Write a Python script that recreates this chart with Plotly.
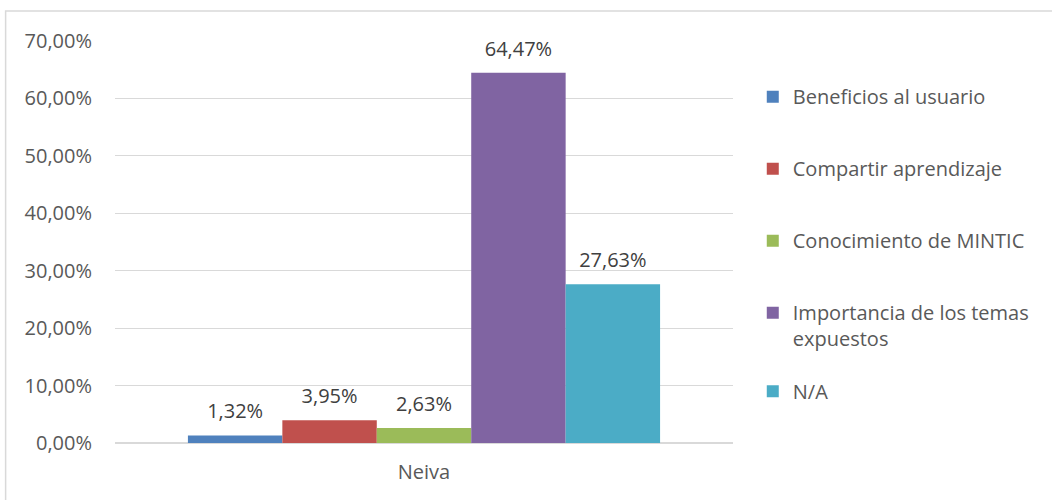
import plotly.graph_objects as go

categories = ["Neiva"]
series_names = ["Beneficios al usuario", "Compartir aprendizaje", "Conocimiento de MINTIC",
                "Importancia de los temas<br>expuestos", "N/A"]
series_values = [[0.0132], [0.0395], [0.0263], [0.6447], [0.2763]]
series_colors = ["#4F81BD", "#C0504D", "#9BBB59", "#8064A2", "#4BACC6"]
y_ticks = [0, 0.1, 0.2, 0.3, 0.4, 0.5, 0.6, 0.7]

FONT = "Open Sans"
FS = 20
fig = go.Figure()
for i, (name, vals, col) in enumerate(zip(series_names, series_values, series_colors)):
    grp = "g%d" % i
    fig.add_trace(go.Bar(
        x=categories, y=vals, name=name, legendgroup=grp, offsetgroup=grp,
        legend="legend2" if i == len(series_names) - 1 else "legend",
        marker=dict(color=col, line=dict(width=0)),
        hoverinfo="skip",
    ))
    # data labels, placed over each bar through the same offset group
    fig.add_trace(go.Scatter(
        x=categories, y=vals, mode="markers+text", offsetgroup=grp,
        text=["{:.2f}%".format(v * 100).replace(".", ",") for v in vals],
        textposition="top center",
        textfont=dict(family=FONT, size=FS, color="#404040"),
        marker=dict(size=18, opacity=0), showlegend=False, cliponaxis=False,
        hoverinfo="skip",
    ))

legend_common = dict(xanchor="left", yanchor="top", valign="top",
                     font=dict(family=FONT, size=FS, color="#595959"),
                     itemwidth=30, bgcolor="rgba(0,0,0,0)", borderwidth=0)
fig.update_layout(
    width=1052, height=500,
    margin=dict(l=115, r=319, t=41, b=57),
    paper_bgcolor="white", plot_bgcolor="white",
    separators=",.",
    barmode="group", bargap=0.236, bargroupgap=0,
    scattermode="group", scattergap=0.236,
    font=dict(family=FONT, size=FS, color="#595959"),
    showlegend=True,
    legend=dict(x=1.032, y=0.91, tracegroupgap=43, **legend_common),
    legend2=dict(x=1.032, y=0.177, **legend_common),
    xaxis=dict(showgrid=False, showline=False, ticks="", ticklabelstandoff=15,
               tickfont=dict(family=FONT, size=FS, color="#595959")),
    yaxis=dict(range=[0, 0.7], tickvals=y_ticks, tickformat=".2%",
               showgrid=True, gridcolor="#D9D9D9", gridwidth=1,
               zeroline=True, zerolinecolor="#D9D9D9", zerolinewidth=1.5,
               showline=False, ticks="", ticklabelstandoff=22,
               tickfont=dict(family=FONT, size=FS, color="#595959")),
    shapes=[dict(type="rect", xref="paper", yref="paper",
                 x0=-0.177, x1=1.53, y0=-0.2, y1=1.0746,
                 line=dict(color="#D9D9D9", width=1.5), fillcolor="rgba(0,0,0,0)", layer="below")],
)
fig.write_html("out.html", config={"displayModeBar": False},
               post_script="document.body.style.margin='0';")
